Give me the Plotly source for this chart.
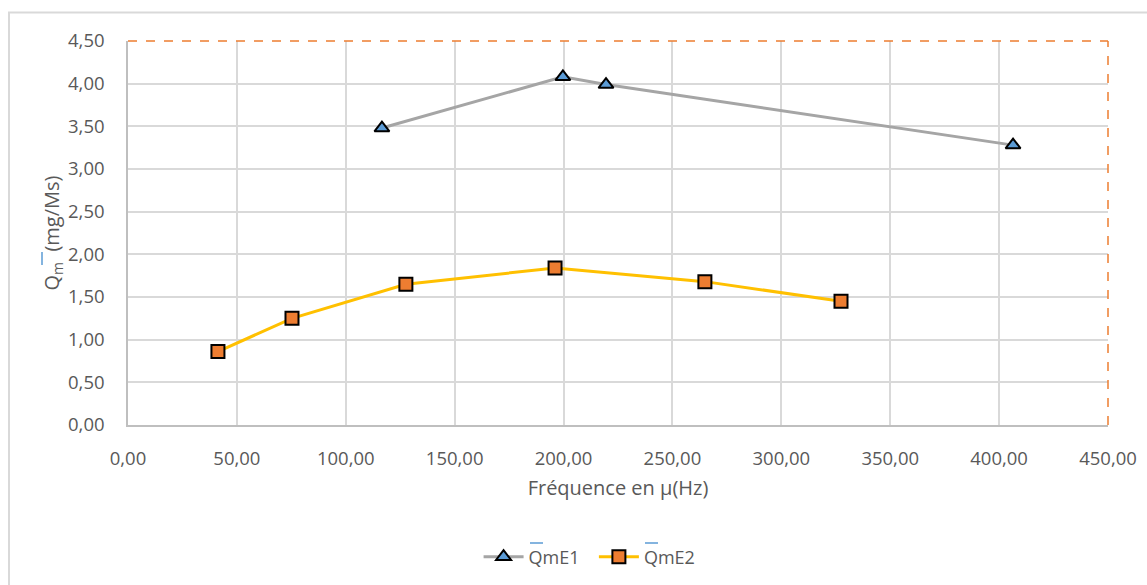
import plotly.graph_objects as go

# Series E1
freq_e1 = [116.6, 199.7, 219.5, 406.4]
qm_e1 = [3.48, 4.08, 3.99, 3.28]

# Series E2
freq_e2 = [41.3, 75.3, 127.6, 196.1, 264.9, 327.4]
qm_e2 = [0.86, 1.25, 1.65, 1.84, 1.68, 1.45]

x_ticks = [0, 50, 100, 150, 200, 250, 300, 350, 400, 450]
y_ticks = [0, 0.5, 1.0, 1.5, 2.0, 2.5, 3.0, 3.5, 4.0, 4.5]

FONT = "Open Sans"
TXT = "#595959"
GRID = "#D9D9D9"

fig = go.Figure()
fig.add_trace(go.Scatter(
    x=freq_e1, y=qm_e1, mode="lines+markers", name="QmE1\u00a0\u00a0",
    line=dict(color="#A5A5A5", width=3),
    marker=dict(symbol="triangle-up", size=13, color="#5B9BD5",
                line=dict(color="black", width=2)),
))
fig.add_trace(go.Scatter(
    x=freq_e2, y=qm_e2, mode="lines+markers", name="QmE2",
    line=dict(color="#FFC000", width=3),
    marker=dict(symbol="square", size=13, color="#ED7D31",
                line=dict(color="black", width=2)),
))

W, H = 1147, 585
L, R, T, B = 128, 39, 41, 160
pw, ph = W - L - R, H - T - B


def px(xp):
    return (xp - L) / pw


def py(yp):
    return (H - B - yp) / ph


shapes = [
    # outer chart frame
    dict(type="rect", xref="paper", yref="paper", x0=px(9), x1=px(1160),
         y0=py(600), y1=py(12.5), line=dict(color="#D9D9D9", width=2),
         layer="below"),
    # dashed plot-area outline (top and right)
    dict(type="line", xref="paper", yref="paper", x0=0, x1=1, y0=1, y1=1,
         line=dict(color="#ED7D31", width=1.5, dash="dash")),
    dict(type="line", xref="paper", yref="paper", x0=1, x1=1, y0=0, y1=1,
         line=dict(color="#ED7D31", width=1.5, dash="dash")),
    # overline marks on the mean symbols
    dict(type="line", xref="paper", yref="paper", x0=px(530), x1=px(543),
         y0=py(543), y1=py(543), line=dict(color="#5B9BD5", width=1.5)),
    dict(type="line", xref="paper", yref="paper", x0=px(645), x1=px(658),
         y0=py(543), y1=py(543), line=dict(color="#5B9BD5", width=1.5)),
    dict(type="line", xref="paper", yref="paper", x0=px(42), x1=px(42),
         y0=py(252), y1=py(265), line=dict(color="#5B9BD5", width=1.5)),
]

fig.update_layout(
    width=W, height=H,
    margin=dict(l=L, r=R, t=T, b=B, autoexpand=False),
    paper_bgcolor="white", plot_bgcolor="white",
    separators=", ",
    font=dict(family=FONT, size=18, color=TXT),
    showlegend=True,
    legend=dict(orientation="h", x=0.471, xanchor="center", y=py(557),
                yanchor="middle", font=dict(size=18, color=TXT),
                bgcolor="rgba(0,0,0,0)",
                itemwidth=40, tracegroupgap=0),
    shapes=shapes,
    xaxis=dict(
        range=[0, 450], tickvals=x_ticks, tickformat=".2f",
        tickfont=dict(size=18.5),
        showgrid=True, gridcolor=GRID, gridwidth=1.5,
        showline=True, linecolor="#BFBFBF", linewidth=1.5,
        zeroline=False, ticks="", ticklabelstandoff=16,
        title=dict(text="Fréquence en µ(Hz)", standoff=12,
                   font=dict(size=20, color=TXT)),
    ),
    yaxis=dict(
        range=[0, 4.5], tickvals=y_ticks, tickformat=".2f",
        tickfont=dict(size=18.5),
        showgrid=True, gridcolor=GRID, gridwidth=1.5,
        showline=True, linecolor="#BFBFBF", linewidth=1.5,
        zeroline=False, ticks="", ticklabelstandoff=18,
        title=dict(text="Q<sub>m</sub>\u00a0\u00a0(mg/Ms)", standoff=3,
                   font=dict(size=20, color=TXT)),
    ),
)

fig.write_html("out.html")
